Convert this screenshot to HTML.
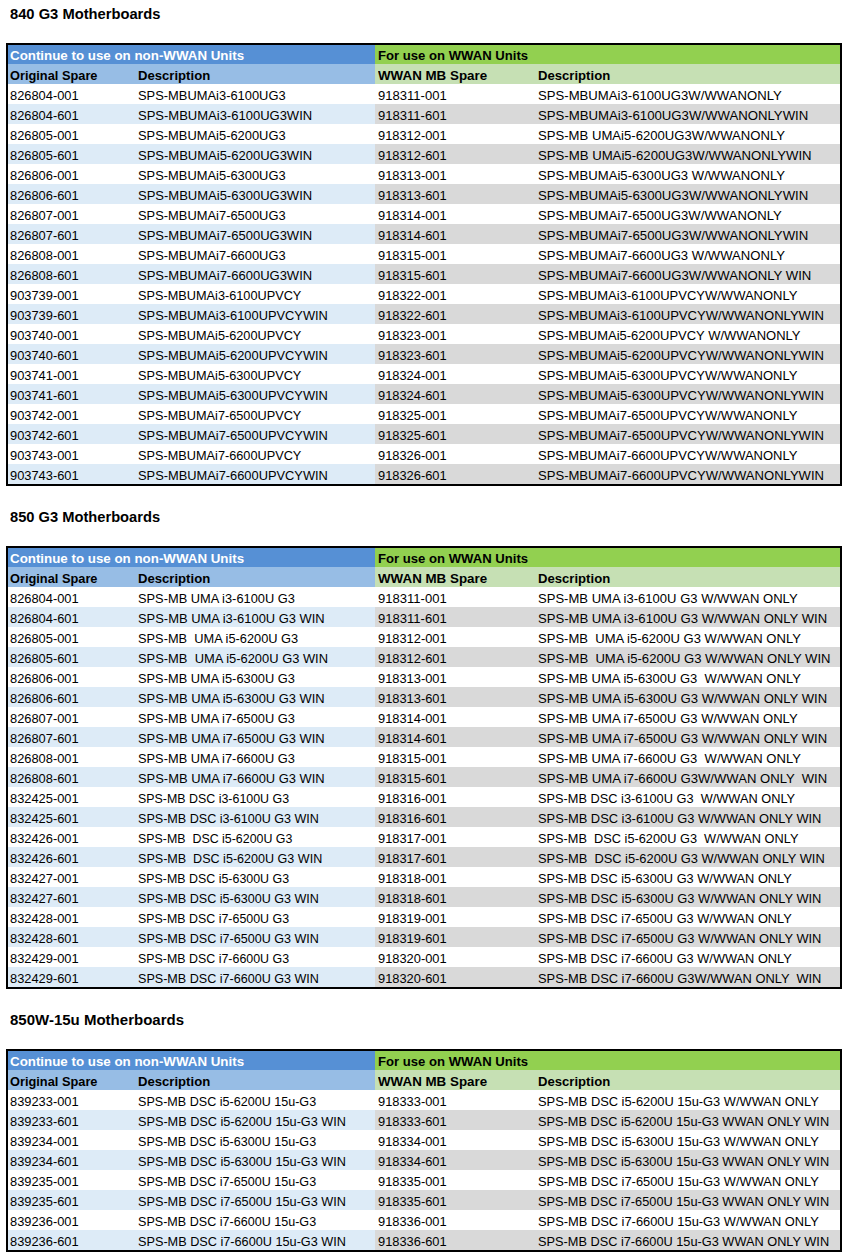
<!DOCTYPE html>
<html><head><meta charset="utf-8"><style>
html,body{margin:0;padding:0;background:#fff;}
body{width:848px;height:1260px;position:relative;overflow:hidden;font-family:"Liberation Sans",sans-serif;color:#000;}
.t{position:absolute;left:10px;font-weight:bold;font-size:14.4px;line-height:20px;white-space:pre;color:#000;transform-origin:0 0;}
.tb{position:absolute;left:6px;width:832px;border:2px solid #000;}
.r{position:relative;height:20px;}
.r.h1{height:19px;}
.c{position:absolute;top:0;height:100%;}
.L{left:0;width:367px;}
.R{left:367px;right:0;}
.x{position:absolute;white-space:pre;font-size:13px;line-height:20px;top:2px;transform-origin:0 0;}
.h1 .x{top:1px;}
.h2 .x{top:2px;}
.b{font-weight:bold;font-size:13.3px;}
.w{color:#fff;}
</style></head><body>

<div class="t" style="top:4px;transform:scaleX(1.0230)">840 G3 Motherboards</div>
<div class="tb" style="top:43px">
<div class="r h1"><div class="c L" style="background:#5690d5"></div><div class="c R" style="background:#92d050"></div><span class="x b w" style="left:2px;transform:scaleX(1.0028)">Continue to use on non-WWAN Units</span><span class="x b" style="left:370px;transform:scaleX(0.9865)">For use on WWAN Units</span></div>
<div class="r h2"><div class="c L" style="background:#97bde5"></div><div class="c R" style="background:#c6e0b4"></div><span class="x b" style="left:2px;transform:scaleX(0.9624)">Original Spare</span><span class="x b" style="left:130px;transform:scaleX(0.9865)">Description</span><span class="x b" style="left:370px;transform:scaleX(1.0048)">WWAN MB Spare</span><span class="x b" style="left:530px;transform:scaleX(0.9865)">Description</span></div>
<div class="r"><div class="c L" style="background:#fff"></div><div class="c R" style="background:#fff"></div><span class="x" style="left:2px;transform:scaleX(0.9896)">826804-001</span><span class="x" style="left:130px;transform:scaleX(0.9919)">SPS-MBUMAi3-6100UG3</span><span class="x" style="left:370px;transform:scaleX(1.0036)">918311-001</span><span class="x" style="left:530px;transform:scaleX(1.0102)">SPS-MBUMAi3-6100UG3W/WWANONLY</span></div>
<div class="r"><div class="c L" style="background:#ddebf7"></div><div class="c R" style="background:#d9d9d9"></div><span class="x" style="left:2px;transform:scaleX(0.9896)">826804-601</span><span class="x" style="left:130px;transform:scaleX(1.0003)">SPS-MBUMAi3-6100UG3WIN</span><span class="x" style="left:370px;transform:scaleX(1.0036)">918311-601</span><span class="x" style="left:530px;transform:scaleX(1.0140)">SPS-MBUMAi3-6100UG3W/WWANONLYWIN</span></div>
<div class="r"><div class="c L" style="background:#fff"></div><div class="c R" style="background:#fff"></div><span class="x" style="left:2px;transform:scaleX(0.9896)">826805-001</span><span class="x" style="left:130px;transform:scaleX(0.9919)">SPS-MBUMAi5-6200UG3</span><span class="x" style="left:370px;transform:scaleX(0.9896)">918312-001</span><span class="x" style="left:530px;transform:scaleX(1.0089)">SPS-MB UMAi5-6200UG3W/WWANONLY</span></div>
<div class="r"><div class="c L" style="background:#ddebf7"></div><div class="c R" style="background:#d9d9d9"></div><span class="x" style="left:2px;transform:scaleX(0.9896)">826805-601</span><span class="x" style="left:130px;transform:scaleX(1.0003)">SPS-MBUMAi5-6200UG3WIN</span><span class="x" style="left:370px;transform:scaleX(0.9896)">918312-601</span><span class="x" style="left:530px;transform:scaleX(1.0127)">SPS-MB UMAi5-6200UG3W/WWANONLYWIN</span></div>
<div class="r"><div class="c L" style="background:#fff"></div><div class="c R" style="background:#fff"></div><span class="x" style="left:2px;transform:scaleX(0.9896)">826806-001</span><span class="x" style="left:130px;transform:scaleX(0.9919)">SPS-MBUMAi5-6300UG3</span><span class="x" style="left:370px;transform:scaleX(0.9896)">918313-001</span><span class="x" style="left:530px;transform:scaleX(1.0089)">SPS-MBUMAi5-6300UG3 W/WWANONLY</span></div>
<div class="r"><div class="c L" style="background:#ddebf7"></div><div class="c R" style="background:#d9d9d9"></div><span class="x" style="left:2px;transform:scaleX(0.9896)">826806-601</span><span class="x" style="left:130px;transform:scaleX(1.0003)">SPS-MBUMAi5-6300UG3WIN</span><span class="x" style="left:370px;transform:scaleX(0.9896)">918313-601</span><span class="x" style="left:530px;transform:scaleX(1.0140)">SPS-MBUMAi5-6300UG3W/WWANONLYWIN</span></div>
<div class="r"><div class="c L" style="background:#fff"></div><div class="c R" style="background:#fff"></div><span class="x" style="left:2px;transform:scaleX(0.9896)">826807-001</span><span class="x" style="left:130px;transform:scaleX(0.9919)">SPS-MBUMAi7-6500UG3</span><span class="x" style="left:370px;transform:scaleX(0.9896)">918314-001</span><span class="x" style="left:530px;transform:scaleX(1.0102)">SPS-MBUMAi7-6500UG3W/WWANONLY</span></div>
<div class="r"><div class="c L" style="background:#ddebf7"></div><div class="c R" style="background:#d9d9d9"></div><span class="x" style="left:2px;transform:scaleX(0.9896)">826807-601</span><span class="x" style="left:130px;transform:scaleX(1.0003)">SPS-MBUMAi7-6500UG3WIN</span><span class="x" style="left:370px;transform:scaleX(0.9896)">918314-601</span><span class="x" style="left:530px;transform:scaleX(1.0140)">SPS-MBUMAi7-6500UG3W/WWANONLYWIN</span></div>
<div class="r"><div class="c L" style="background:#fff"></div><div class="c R" style="background:#fff"></div><span class="x" style="left:2px;transform:scaleX(0.9896)">826808-001</span><span class="x" style="left:130px;transform:scaleX(0.9919)">SPS-MBUMAi7-6600UG3</span><span class="x" style="left:370px;transform:scaleX(0.9896)">918315-001</span><span class="x" style="left:530px;transform:scaleX(1.0089)">SPS-MBUMAi7-6600UG3 W/WWANONLY</span></div>
<div class="r"><div class="c L" style="background:#ddebf7"></div><div class="c R" style="background:#d9d9d9"></div><span class="x" style="left:2px;transform:scaleX(0.9896)">826808-601</span><span class="x" style="left:130px;transform:scaleX(1.0003)">SPS-MBUMAi7-6600UG3WIN</span><span class="x" style="left:370px;transform:scaleX(0.9896)">918315-601</span><span class="x" style="left:530px;transform:scaleX(1.0127)">SPS-MBUMAi7-6600UG3W/WWANONLY WIN</span></div>
<div class="r"><div class="c L" style="background:#fff"></div><div class="c R" style="background:#fff"></div><span class="x" style="left:2px;transform:scaleX(0.9896)">903739-001</span><span class="x" style="left:130px;transform:scaleX(0.9788)">SPS-MBUMAi3-6100UPVCY</span><span class="x" style="left:370px;transform:scaleX(0.9896)">918322-001</span><span class="x" style="left:530px;transform:scaleX(1.0005)">SPS-MBUMAi3-6100UPVCYW/WWANONLY</span></div>
<div class="r"><div class="c L" style="background:#ddebf7"></div><div class="c R" style="background:#d9d9d9"></div><span class="x" style="left:2px;transform:scaleX(0.9896)">903739-601</span><span class="x" style="left:130px;transform:scaleX(0.9881)">SPS-MBUMAi3-6100UPVCYWIN</span><span class="x" style="left:370px;transform:scaleX(0.9896)">918322-601</span><span class="x" style="left:530px;transform:scaleX(1.0049)">SPS-MBUMAi3-6100UPVCYW/WWANONLYWIN</span></div>
<div class="r"><div class="c L" style="background:#fff"></div><div class="c R" style="background:#fff"></div><span class="x" style="left:2px;transform:scaleX(0.9896)">903740-001</span><span class="x" style="left:130px;transform:scaleX(0.9788)">SPS-MBUMAi5-6200UPVCY</span><span class="x" style="left:370px;transform:scaleX(0.9896)">918323-001</span><span class="x" style="left:530px;transform:scaleX(0.9994)">SPS-MBUMAi5-6200UPVCY W/WWANONLY</span></div>
<div class="r"><div class="c L" style="background:#ddebf7"></div><div class="c R" style="background:#d9d9d9"></div><span class="x" style="left:2px;transform:scaleX(0.9896)">903740-601</span><span class="x" style="left:130px;transform:scaleX(0.9881)">SPS-MBUMAi5-6200UPVCYWIN</span><span class="x" style="left:370px;transform:scaleX(0.9896)">918323-601</span><span class="x" style="left:530px;transform:scaleX(1.0049)">SPS-MBUMAi5-6200UPVCYW/WWANONLYWIN</span></div>
<div class="r"><div class="c L" style="background:#fff"></div><div class="c R" style="background:#fff"></div><span class="x" style="left:2px;transform:scaleX(0.9896)">903741-001</span><span class="x" style="left:130px;transform:scaleX(0.9788)">SPS-MBUMAi5-6300UPVCY</span><span class="x" style="left:370px;transform:scaleX(0.9896)">918324-001</span><span class="x" style="left:530px;transform:scaleX(1.0005)">SPS-MBUMAi5-6300UPVCYW/WWANONLY</span></div>
<div class="r"><div class="c L" style="background:#ddebf7"></div><div class="c R" style="background:#d9d9d9"></div><span class="x" style="left:2px;transform:scaleX(0.9896)">903741-601</span><span class="x" style="left:130px;transform:scaleX(0.9881)">SPS-MBUMAi5-6300UPVCYWIN</span><span class="x" style="left:370px;transform:scaleX(0.9896)">918324-601</span><span class="x" style="left:530px;transform:scaleX(1.0049)">SPS-MBUMAi5-6300UPVCYW/WWANONLYWIN</span></div>
<div class="r"><div class="c L" style="background:#fff"></div><div class="c R" style="background:#fff"></div><span class="x" style="left:2px;transform:scaleX(0.9896)">903742-001</span><span class="x" style="left:130px;transform:scaleX(0.9788)">SPS-MBUMAi7-6500UPVCY</span><span class="x" style="left:370px;transform:scaleX(0.9896)">918325-001</span><span class="x" style="left:530px;transform:scaleX(1.0005)">SPS-MBUMAi7-6500UPVCYW/WWANONLY</span></div>
<div class="r"><div class="c L" style="background:#ddebf7"></div><div class="c R" style="background:#d9d9d9"></div><span class="x" style="left:2px;transform:scaleX(0.9896)">903742-601</span><span class="x" style="left:130px;transform:scaleX(0.9881)">SPS-MBUMAi7-6500UPVCYWIN</span><span class="x" style="left:370px;transform:scaleX(0.9896)">918325-601</span><span class="x" style="left:530px;transform:scaleX(1.0049)">SPS-MBUMAi7-6500UPVCYW/WWANONLYWIN</span></div>
<div class="r"><div class="c L" style="background:#fff"></div><div class="c R" style="background:#fff"></div><span class="x" style="left:2px;transform:scaleX(0.9896)">903743-001</span><span class="x" style="left:130px;transform:scaleX(0.9788)">SPS-MBUMAi7-6600UPVCY</span><span class="x" style="left:370px;transform:scaleX(0.9896)">918326-001</span><span class="x" style="left:530px;transform:scaleX(1.0005)">SPS-MBUMAi7-6600UPVCYW/WWANONLY</span></div>
<div class="r"><div class="c L" style="background:#ddebf7"></div><div class="c R" style="background:#d9d9d9"></div><span class="x" style="left:2px;transform:scaleX(0.9896)">903743-601</span><span class="x" style="left:130px;transform:scaleX(0.9881)">SPS-MBUMAi7-6600UPVCYWIN</span><span class="x" style="left:370px;transform:scaleX(0.9896)">918326-601</span><span class="x" style="left:530px;transform:scaleX(1.0049)">SPS-MBUMAi7-6600UPVCYW/WWANONLYWIN</span></div>
</div>
<div class="t" style="top:507px;transform:scaleX(1.0200)">850 G3 Motherboards</div>
<div class="tb" style="top:546px">
<div class="r h1"><div class="c L" style="background:#5690d5"></div><div class="c R" style="background:#92d050"></div><span class="x b w" style="left:2px;transform:scaleX(1.0028)">Continue to use on non-WWAN Units</span><span class="x b" style="left:370px;transform:scaleX(0.9865)">For use on WWAN Units</span></div>
<div class="r h2"><div class="c L" style="background:#97bde5"></div><div class="c R" style="background:#c6e0b4"></div><span class="x b" style="left:2px;transform:scaleX(0.9624)">Original Spare</span><span class="x b" style="left:130px;transform:scaleX(0.9865)">Description</span><span class="x b" style="left:370px;transform:scaleX(1.0048)">WWAN MB Spare</span><span class="x b" style="left:530px;transform:scaleX(0.9865)">Description</span></div>
<div class="r"><div class="c L" style="background:#fff"></div><div class="c R" style="background:#fff"></div><span class="x" style="left:2px;transform:scaleX(0.9896)">826804-001</span><span class="x" style="left:130px;transform:scaleX(0.9869)">SPS-MB UMA i3-6100U G3</span><span class="x" style="left:370px;transform:scaleX(1.0036)">918311-001</span><span class="x" style="left:530px;transform:scaleX(1.0038)">SPS-MB UMA i3-6100U G3 W/WWAN ONLY</span></div>
<div class="r"><div class="c L" style="background:#ddebf7"></div><div class="c R" style="background:#d9d9d9"></div><span class="x" style="left:2px;transform:scaleX(0.9896)">826804-601</span><span class="x" style="left:130px;transform:scaleX(0.9940)">SPS-MB UMA i3-6100U G3 WIN</span><span class="x" style="left:370px;transform:scaleX(1.0036)">918311-601</span><span class="x" style="left:530px;transform:scaleX(1.0067)">SPS-MB UMA i3-6100U G3 W/WWAN ONLY WIN</span></div>
<div class="r"><div class="c L" style="background:#fff"></div><div class="c R" style="background:#fff"></div><span class="x" style="left:2px;transform:scaleX(0.9896)">826805-001</span><span class="x" style="left:130px;transform:scaleX(0.9854)">SPS-MB  UMA i5-6200U G3</span><span class="x" style="left:370px;transform:scaleX(0.9896)">918312-001</span><span class="x" style="left:530px;transform:scaleX(1.0026)">SPS-MB  UMA i5-6200U G3 W/WWAN ONLY</span></div>
<div class="r"><div class="c L" style="background:#ddebf7"></div><div class="c R" style="background:#d9d9d9"></div><span class="x" style="left:2px;transform:scaleX(0.9896)">826805-601</span><span class="x" style="left:130px;transform:scaleX(0.9925)">SPS-MB  UMA i5-6200U G3 WIN</span><span class="x" style="left:370px;transform:scaleX(0.9896)">918312-601</span><span class="x" style="left:530px;transform:scaleX(1.0056)">SPS-MB  UMA i5-6200U G3 W/WWAN ONLY WIN</span></div>
<div class="r"><div class="c L" style="background:#fff"></div><div class="c R" style="background:#fff"></div><span class="x" style="left:2px;transform:scaleX(0.9896)">826806-001</span><span class="x" style="left:130px;transform:scaleX(0.9869)">SPS-MB UMA i5-6300U G3</span><span class="x" style="left:370px;transform:scaleX(0.9896)">918313-001</span><span class="x" style="left:530px;transform:scaleX(1.0026)">SPS-MB UMA i5-6300U G3  W/WWAN ONLY</span></div>
<div class="r"><div class="c L" style="background:#ddebf7"></div><div class="c R" style="background:#d9d9d9"></div><span class="x" style="left:2px;transform:scaleX(0.9896)">826806-601</span><span class="x" style="left:130px;transform:scaleX(0.9940)">SPS-MB UMA i5-6300U G3 WIN</span><span class="x" style="left:370px;transform:scaleX(0.9896)">918313-601</span><span class="x" style="left:530px;transform:scaleX(1.0067)">SPS-MB UMA i5-6300U G3 W/WWAN ONLY WIN</span></div>
<div class="r"><div class="c L" style="background:#fff"></div><div class="c R" style="background:#fff"></div><span class="x" style="left:2px;transform:scaleX(0.9896)">826807-001</span><span class="x" style="left:130px;transform:scaleX(0.9869)">SPS-MB UMA i7-6500U G3</span><span class="x" style="left:370px;transform:scaleX(0.9896)">918314-001</span><span class="x" style="left:530px;transform:scaleX(1.0038)">SPS-MB UMA i7-6500U G3 W/WWAN ONLY</span></div>
<div class="r"><div class="c L" style="background:#ddebf7"></div><div class="c R" style="background:#d9d9d9"></div><span class="x" style="left:2px;transform:scaleX(0.9896)">826807-601</span><span class="x" style="left:130px;transform:scaleX(0.9940)">SPS-MB UMA i7-6500U G3 WIN</span><span class="x" style="left:370px;transform:scaleX(0.9896)">918314-601</span><span class="x" style="left:530px;transform:scaleX(1.0067)">SPS-MB UMA i7-6500U G3 W/WWAN ONLY WIN</span></div>
<div class="r"><div class="c L" style="background:#fff"></div><div class="c R" style="background:#fff"></div><span class="x" style="left:2px;transform:scaleX(0.9896)">826808-001</span><span class="x" style="left:130px;transform:scaleX(0.9869)">SPS-MB UMA i7-6600U G3</span><span class="x" style="left:370px;transform:scaleX(0.9896)">918315-001</span><span class="x" style="left:530px;transform:scaleX(1.0026)">SPS-MB UMA i7-6600U G3  W/WWAN ONLY</span></div>
<div class="r"><div class="c L" style="background:#ddebf7"></div><div class="c R" style="background:#d9d9d9"></div><span class="x" style="left:2px;transform:scaleX(0.9896)">826808-601</span><span class="x" style="left:130px;transform:scaleX(0.9940)">SPS-MB UMA i7-6600U G3 WIN</span><span class="x" style="left:370px;transform:scaleX(0.9896)">918315-601</span><span class="x" style="left:530px;transform:scaleX(1.0067)">SPS-MB UMA i7-6600U G3W/WWAN ONLY  WIN</span></div>
<div class="r"><div class="c L" style="background:#fff"></div><div class="c R" style="background:#fff"></div><span class="x" style="left:2px;transform:scaleX(0.9896)">832425-001</span><span class="x" style="left:130px;transform:scaleX(0.9547)">SPS-MB DSC i3-6100U G3</span><span class="x" style="left:370px;transform:scaleX(0.9896)">918316-001</span><span class="x" style="left:530px;transform:scaleX(0.9832)">SPS-MB DSC i3-6100U G3  W/WWAN ONLY</span></div>
<div class="r"><div class="c L" style="background:#ddebf7"></div><div class="c R" style="background:#d9d9d9"></div><span class="x" style="left:2px;transform:scaleX(0.9896)">832425-601</span><span class="x" style="left:130px;transform:scaleX(0.9668)">SPS-MB DSC i3-6100U G3 WIN</span><span class="x" style="left:370px;transform:scaleX(0.9896)">918316-601</span><span class="x" style="left:530px;transform:scaleX(0.9891)">SPS-MB DSC i3-6100U G3 W/WWAN ONLY WIN</span></div>
<div class="r"><div class="c L" style="background:#fff"></div><div class="c R" style="background:#fff"></div><span class="x" style="left:2px;transform:scaleX(0.9896)">832426-001</span><span class="x" style="left:130px;transform:scaleX(0.9539)">SPS-MB  DSC i5-6200U G3</span><span class="x" style="left:370px;transform:scaleX(0.9896)">918317-001</span><span class="x" style="left:530px;transform:scaleX(0.9824)">SPS-MB  DSC i5-6200U G3  W/WWAN ONLY</span></div>
<div class="r"><div class="c L" style="background:#ddebf7"></div><div class="c R" style="background:#d9d9d9"></div><span class="x" style="left:2px;transform:scaleX(0.9896)">832426-601</span><span class="x" style="left:130px;transform:scaleX(0.9659)">SPS-MB  DSC i5-6200U G3 WIN</span><span class="x" style="left:370px;transform:scaleX(0.9896)">918317-601</span><span class="x" style="left:530px;transform:scaleX(0.9882)">SPS-MB  DSC i5-6200U G3 W/WWAN ONLY WIN</span></div>
<div class="r"><div class="c L" style="background:#fff"></div><div class="c R" style="background:#fff"></div><span class="x" style="left:2px;transform:scaleX(0.9896)">832427-001</span><span class="x" style="left:130px;transform:scaleX(0.9547)">SPS-MB DSC i5-6300U G3</span><span class="x" style="left:370px;transform:scaleX(0.9896)">918318-001</span><span class="x" style="left:530px;transform:scaleX(0.9842)">SPS-MB DSC i5-6300U G3 W/WWAN ONLY</span></div>
<div class="r"><div class="c L" style="background:#ddebf7"></div><div class="c R" style="background:#d9d9d9"></div><span class="x" style="left:2px;transform:scaleX(0.9896)">832427-601</span><span class="x" style="left:130px;transform:scaleX(0.9668)">SPS-MB DSC i5-6300U G3 WIN</span><span class="x" style="left:370px;transform:scaleX(0.9896)">918318-601</span><span class="x" style="left:530px;transform:scaleX(0.9891)">SPS-MB DSC i5-6300U G3 W/WWAN ONLY WIN</span></div>
<div class="r"><div class="c L" style="background:#fff"></div><div class="c R" style="background:#fff"></div><span class="x" style="left:2px;transform:scaleX(0.9896)">832428-001</span><span class="x" style="left:130px;transform:scaleX(0.9547)">SPS-MB DSC i7-6500U G3</span><span class="x" style="left:370px;transform:scaleX(0.9896)">918319-001</span><span class="x" style="left:530px;transform:scaleX(0.9842)">SPS-MB DSC i7-6500U G3 W/WWAN ONLY</span></div>
<div class="r"><div class="c L" style="background:#ddebf7"></div><div class="c R" style="background:#d9d9d9"></div><span class="x" style="left:2px;transform:scaleX(0.9896)">832428-601</span><span class="x" style="left:130px;transform:scaleX(0.9668)">SPS-MB DSC i7-6500U G3 WIN</span><span class="x" style="left:370px;transform:scaleX(0.9896)">918319-601</span><span class="x" style="left:530px;transform:scaleX(0.9891)">SPS-MB DSC i7-6500U G3 W/WWAN ONLY WIN</span></div>
<div class="r"><div class="c L" style="background:#fff"></div><div class="c R" style="background:#fff"></div><span class="x" style="left:2px;transform:scaleX(0.9896)">832429-001</span><span class="x" style="left:130px;transform:scaleX(0.9547)">SPS-MB DSC i7-6600U G3</span><span class="x" style="left:370px;transform:scaleX(0.9896)">918320-001</span><span class="x" style="left:530px;transform:scaleX(0.9842)">SPS-MB DSC i7-6600U G3 W/WWAN ONLY</span></div>
<div class="r"><div class="c L" style="background:#ddebf7"></div><div class="c R" style="background:#d9d9d9"></div><span class="x" style="left:2px;transform:scaleX(0.9896)">832429-601</span><span class="x" style="left:130px;transform:scaleX(0.9668)">SPS-MB DSC i7-6600U G3 WIN</span><span class="x" style="left:370px;transform:scaleX(0.9896)">918320-601</span><span class="x" style="left:530px;transform:scaleX(0.9891)">SPS-MB DSC i7-6600U G3W/WWAN ONLY  WIN</span></div>
</div>
<div class="t" style="top:1010px;transform:scaleX(1.0430)">850W-15u Motherboards</div>
<div class="tb" style="top:1049px">
<div class="r h1"><div class="c L" style="background:#5690d5"></div><div class="c R" style="background:#92d050"></div><span class="x b w" style="left:2px;transform:scaleX(1.0028)">Continue to use on non-WWAN Units</span><span class="x b" style="left:370px;transform:scaleX(0.9865)">For use on WWAN Units</span></div>
<div class="r h2"><div class="c L" style="background:#97bde5"></div><div class="c R" style="background:#c6e0b4"></div><span class="x b" style="left:2px;transform:scaleX(0.9624)">Original Spare</span><span class="x b" style="left:130px;transform:scaleX(0.9865)">Description</span><span class="x b" style="left:370px;transform:scaleX(1.0048)">WWAN MB Spare</span><span class="x b" style="left:530px;transform:scaleX(0.9865)">Description</span></div>
<div class="r"><div class="c L" style="background:#fff"></div><div class="c R" style="background:#fff"></div><span class="x" style="left:2px;transform:scaleX(0.9896)">839233-001</span><span class="x" style="left:130px;transform:scaleX(0.9668)">SPS-MB DSC i5-6200U 15u-G3</span><span class="x" style="left:370px;transform:scaleX(0.9896)">918333-001</span><span class="x" style="left:530px;transform:scaleX(0.9893)">SPS-MB DSC i5-6200U 15u-G3 W/WWAN ONLY</span></div>
<div class="r"><div class="c L" style="background:#ddebf7"></div><div class="c R" style="background:#d9d9d9"></div><span class="x" style="left:2px;transform:scaleX(0.9896)">839233-601</span><span class="x" style="left:130px;transform:scaleX(0.9758)">SPS-MB DSC i5-6200U 15u-G3 WIN</span><span class="x" style="left:370px;transform:scaleX(0.9896)">918333-601</span><span class="x" style="left:530px;transform:scaleX(0.9813)">SPS-MB DSC i5-6200U 15u-G3 WWAN ONLY WIN</span></div>
<div class="r"><div class="c L" style="background:#fff"></div><div class="c R" style="background:#fff"></div><span class="x" style="left:2px;transform:scaleX(0.9896)">839234-001</span><span class="x" style="left:130px;transform:scaleX(0.9668)">SPS-MB DSC i5-6300U 15u-G3</span><span class="x" style="left:370px;transform:scaleX(0.9896)">918334-001</span><span class="x" style="left:530px;transform:scaleX(0.9893)">SPS-MB DSC i5-6300U 15u-G3 W/WWAN ONLY</span></div>
<div class="r"><div class="c L" style="background:#ddebf7"></div><div class="c R" style="background:#d9d9d9"></div><span class="x" style="left:2px;transform:scaleX(0.9896)">839234-601</span><span class="x" style="left:130px;transform:scaleX(0.9758)">SPS-MB DSC i5-6300U 15u-G3 WIN</span><span class="x" style="left:370px;transform:scaleX(0.9896)">918334-601</span><span class="x" style="left:530px;transform:scaleX(0.9813)">SPS-MB DSC i5-6300U 15u-G3 WWAN ONLY WIN</span></div>
<div class="r"><div class="c L" style="background:#fff"></div><div class="c R" style="background:#fff"></div><span class="x" style="left:2px;transform:scaleX(0.9896)">839235-001</span><span class="x" style="left:130px;transform:scaleX(0.9668)">SPS-MB DSC i7-6500U 15u-G3</span><span class="x" style="left:370px;transform:scaleX(0.9896)">918335-001</span><span class="x" style="left:530px;transform:scaleX(0.9893)">SPS-MB DSC i7-6500U 15u-G3 W/WWAN ONLY</span></div>
<div class="r"><div class="c L" style="background:#ddebf7"></div><div class="c R" style="background:#d9d9d9"></div><span class="x" style="left:2px;transform:scaleX(0.9896)">839235-601</span><span class="x" style="left:130px;transform:scaleX(0.9758)">SPS-MB DSC i7-6500U 15u-G3 WIN</span><span class="x" style="left:370px;transform:scaleX(0.9896)">918335-601</span><span class="x" style="left:530px;transform:scaleX(0.9813)">SPS-MB DSC i7-6500U 15u-G3 WWAN ONLY WIN</span></div>
<div class="r"><div class="c L" style="background:#fff"></div><div class="c R" style="background:#fff"></div><span class="x" style="left:2px;transform:scaleX(0.9896)">839236-001</span><span class="x" style="left:130px;transform:scaleX(0.9668)">SPS-MB DSC i7-6600U 15u-G3</span><span class="x" style="left:370px;transform:scaleX(0.9896)">918336-001</span><span class="x" style="left:530px;transform:scaleX(0.9893)">SPS-MB DSC i7-6600U 15u-G3 W/WWAN ONLY</span></div>
<div class="r"><div class="c L" style="background:#ddebf7"></div><div class="c R" style="background:#d9d9d9"></div><span class="x" style="left:2px;transform:scaleX(0.9896)">839236-601</span><span class="x" style="left:130px;transform:scaleX(0.9758)">SPS-MB DSC i7-6600U 15u-G3 WIN</span><span class="x" style="left:370px;transform:scaleX(0.9896)">918336-601</span><span class="x" style="left:530px;transform:scaleX(0.9813)">SPS-MB DSC i7-6600U 15u-G3 WWAN ONLY WIN</span></div>
</div>
</body></html>
